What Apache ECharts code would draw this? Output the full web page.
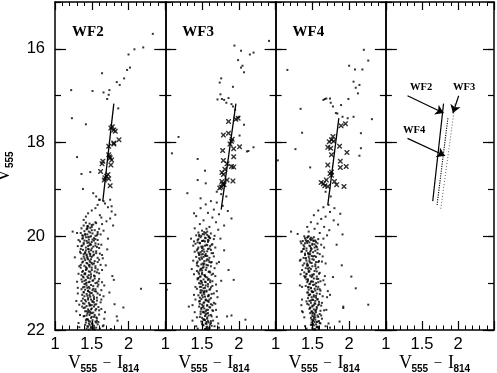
<!DOCTYPE html>
<html>
<head>
<meta charset="utf-8">
<script src="https://cdn.jsdelivr.net/npm/echarts@6/dist/echarts.min.js"></script>
<style>
html, body { margin: 0; padding: 0; background: #fff; }
#chart { width: 497px; height: 373px; }
</style>
</head>
<body>
<div id="chart"></div>
<script>
// tick labels
var xTickLabels = ['1', '1.5', '2'];
var yTickLabels = [16, 18, 20, 22];
var panelNames = ['WF2', 'WF3', 'WF4'];

// WF2 stars (V-I, V)
var wf2Dots = [
  [2.33,15.68],[2.20,15.97],[2.08,16.01],[2.00,16.12],[2.02,16.40],[1.98,16.45],[1.94,16.63],[1.84,16.71],
  [1.88,16.77],[1.64,16.52],[1.74,16.88],[1.66,16.93],[1.73,16.98],[1.71,17.07],[1.51,16.90],[1.22,16.88],
  [1.86,17.27],[1.23,17.48],[1.42,17.61],[1.30,18.31],[1.36,18.67],[1.48,18.63],[1.52,19.08],[1.56,19.15],
  [1.61,19.22],[1.75,19.22],[1.77,19.36],[1.38,18.99],
  [1.60,19.22],[1.66,19.25],[1.55,19.40],[1.77,19.47],[1.45,19.51],[1.61,19.55],[1.82,19.54],[1.39,19.65],
  [1.70,19.68],[1.55,19.70],[1.64,19.74],[1.79,19.77],[1.68,19.30],[1.58,19.33],[1.72,19.38],[1.50,19.45],
  [1.63,19.60],[1.75,19.62],[1.42,19.58],
  [1.42,19.71],[1.47,19.73],[1.52,19.75],[1.39,19.77],[1.56,19.72],[1.45,19.79],[1.50,19.80],
  [1.36,19.83],[1.43,19.85],[1.48,19.82],[1.54,19.87],[1.60,19.84],[1.40,19.89],[1.46,19.90],
  [1.35,19.93],[1.51,19.94],[1.44,19.96],[1.57,19.98],[1.38,19.99],[1.49,20.00],[1.42,20.02],
  [1.53,20.04],[1.37,20.05],[1.46,20.07],[1.40,20.09],[1.58,20.08],[1.34,20.11],[1.50,20.12],
  [1.44,20.14],[1.55,20.15],[1.39,20.17],[1.47,20.19],[1.36,20.21],[1.52,20.22],[1.42,20.24],
  [1.60,20.25],[1.45,20.27],[1.38,20.29],[1.49,20.30],[1.56,20.32],[1.41,20.34],[1.35,20.36],
  [1.47,20.37],[1.53,20.39],[1.43,20.41],[1.39,20.43],[1.50,20.44],[1.58,20.46],[1.36,20.48],
  [1.45,20.49],[1.41,20.51],[1.54,20.53],[1.48,20.55],[1.37,20.56],[1.44,20.58],[1.51,20.60],
  [1.62,20.61],[1.40,20.63],[1.47,20.65],[1.35,20.67],[1.55,20.68],[1.43,20.70],[1.50,20.72],
  [1.38,20.74],[1.46,20.75],[1.57,20.77],[1.41,20.79],[1.49,20.81],[1.36,20.83],[1.53,20.84],
  [1.44,20.86],[1.39,20.88],[1.48,20.90],[1.60,20.91],[1.42,20.93],[1.51,20.95],[1.37,20.97],
  [1.46,20.98],[1.55,21.00],[1.40,21.02],[1.49,21.04],[1.43,21.05],[1.58,21.07],[1.38,21.09],
  [1.47,21.11],[1.52,21.12],[1.41,21.14],[1.45,21.16],[1.56,21.18],[1.39,21.19],[1.50,21.21],
  [1.43,21.23],[1.61,21.25],[1.47,21.26],[1.40,21.28],[1.53,21.30],[1.45,21.32],[1.38,21.33],
  [1.49,21.35],[1.57,21.37],[1.42,21.39],[1.51,21.40],[1.46,21.42],[1.40,21.44],[1.54,21.46],
  [1.48,21.47],[1.43,21.49],[1.59,21.51],[1.39,21.53],[1.50,21.54],[1.45,21.56],[1.55,21.58],
  [1.41,21.60],[1.48,21.61],[1.52,21.63],[1.44,21.65],[1.60,21.67],[1.47,21.68],[1.40,21.70],
  [1.53,21.72],[1.49,21.74],[1.57,21.75],[1.43,21.77],[1.51,21.79],[1.46,21.81],[1.55,21.82],
  [1.42,21.84],[1.50,21.86],[1.58,21.88],[1.47,21.89],[1.53,21.91],[1.45,21.93],[1.56,21.95],
  [1.49,21.96],[1.52,21.98],[1.61,21.97],
  [1.50,19.76],[1.44,19.81],[1.58,19.91],[1.41,19.95],[1.47,20.01],[1.55,20.06],[1.43,20.10],
  [1.48,20.16],[1.37,20.20],[1.57,20.23],[1.46,20.28],[1.52,20.33],[1.39,20.38],[1.48,20.42],
  [1.44,20.47],[1.60,20.50],[1.38,20.54],[1.50,20.57],[1.46,20.62],[1.42,20.66],[1.58,20.71],
  [1.48,20.76],[1.40,20.80],[1.54,20.85],[1.45,20.89],[1.52,20.94],[1.43,20.99],[1.59,21.03],
  [1.46,21.08],[1.36,21.13],[1.54,21.17],[1.48,21.22],[1.44,21.27],[1.57,21.31],[1.41,21.36],
  [1.53,21.41],[1.47,21.45],[1.37,21.50],[1.56,21.55],[1.46,21.59],[1.50,21.64],[1.43,21.69],
  [1.56,21.73],[1.45,21.78],[1.59,21.83],[1.51,21.87],[1.44,21.92],[1.54,21.99],
  [1.66,19.88],[1.72,20.05],[1.64,20.40],[1.69,20.62],[1.78,20.85],[1.67,21.05],[1.74,21.20],
  [1.81,21.45],[1.68,21.62],[1.85,21.80],[1.66,21.90],[1.76,21.98],[1.71,20.28],[1.63,21.35],
  [2.17,21.12],[1.93,21.52],[1.80,20.93],[1.84,21.71],
  [1.30,19.93],[1.27,20.45],[1.31,21.10],[1.29,21.60],[1.32,20.80],[1.24,19.90]
];
var wf2Extra = [
  [1.46,20.13],[1.39,21.71],[1.53,20.58],[1.44,19.84],[1.58,21.22],[1.41,20.36],[1.49,21.93],[1.36,20.92],
  [1.55,19.99],[1.47,21.48],[1.43,20.68],[1.51,21.15],[1.38,20.04],[1.60,20.79],[1.45,21.62],[1.50,20.26],
  [1.42,21.01],[1.56,21.84],[1.40,20.47],[1.48,19.92],[1.53,21.34],[1.37,21.25],[1.46,20.83],[1.59,20.17],
  [1.44,21.77],[1.52,20.41],[1.35,20.61],[1.49,21.56],[1.41,19.97],[1.57,20.99],[1.45,20.21],[1.38,21.43],
  [1.54,21.68],[1.47,20.52],[1.43,21.97],[1.50,19.87],[1.62,21.41],[1.40,20.95],[1.48,21.29],[1.55,20.64],
  [1.42,20.30],[1.46,21.86],[1.37,20.76],[1.52,21.06],[1.44,20.44],[1.58,19.95],[1.49,20.86],[1.41,21.52],
  [1.53,21.95],[1.39,20.14],[1.47,21.19],[1.56,20.36],[1.43,20.57],[1.50,21.72],[1.36,21.38],[1.45,20.02],
  [1.54,20.90],[1.48,21.64],[1.42,20.72],[1.60,21.58],[1.46,20.33],[1.51,20.07],[1.39,21.20],[1.57,21.80],
  [1.44,21.10],[1.49,20.49],[1.35,20.27],[1.53,21.50],[1.47,20.97],[1.41,21.89],[1.55,20.20],[1.45,21.35],
  [1.50,20.67],[1.43,21.60],[1.59,20.96],[1.48,20.38],[1.38,20.86],[1.52,21.26],[1.46,21.99],[1.44,19.78],
  [1.56,21.45],[1.40,21.08],[1.49,20.18],[1.54,20.75],[1.42,21.79],[1.47,20.61],[1.51,21.38],[1.37,19.98],
  [1.58,20.55],[1.45,21.17],[1.53,20.09],[1.41,20.81],[1.48,21.82],[1.55,21.13],[1.43,20.39],[1.50,21.47]
];
var wf2Halo = [
  [1.32,20.08],[1.63,20.18],[1.33,20.64],[1.65,20.47],[1.31,21.22],[1.64,20.98],[1.33,21.46],[1.66,21.28],
  [1.32,21.85],[1.63,21.55],[1.34,20.33],[1.62,19.96],[1.30,20.97],[1.67,21.76],[1.34,21.68],[1.64,20.72],
  [1.31,20.21],[1.63,21.15],[1.33,21.94],[1.65,21.92],[1.29,21.38],[1.61,20.37]
];
var wf2Crosses = [
  [1.76,17.69],[1.80,17.73],[1.78,17.66],[1.87,17.94],[1.80,18.01],[1.73,18.08],[1.80,18.03],[1.73,18.26],
  [1.75,18.33],[1.74,18.30],[1.65,18.40],[1.64,18.45],[1.76,18.48],[1.62,18.62],[1.70,18.72],[1.67,18.80],
  [1.73,18.77],[1.75,18.92],[1.72,18.68],[1.68,18.75],[1.77,18.37],[1.82,17.76]
];
var wf2Ridge = [[1.80, 17.17], [1.65, 19.25]];

// WF3 stars
var wf3Dots = [
  [2.41,15.83],[1.94,15.93],[2.03,16.04],[2.15,16.12],[2.20,16.08],[1.99,16.24],[2.05,16.36],[2.03,16.40],
  [2.07,16.50],[1.76,16.63],[1.74,16.72],[1.92,16.81],[1.75,16.97],[1.71,17.08],[1.77,17.07],[1.80,17.09],
  [1.86,17.05],[1.83,17.15],[1.90,17.18],[1.92,17.23],[1.95,17.30],[2.00,17.45],[2.07,17.62],[2.01,17.85],
  [2.20,18.10],[2.11,18.19],[2.13,18.18],[1.44,18.35],[1.54,18.60],[1.55,18.87],[1.44,18.80],[1.18,17.88],
  [1.09,18.23],[1.30,19.08],[1.48,19.19],[1.39,19.51],
  [1.62,19.25],[1.70,19.28],[1.55,19.32],[1.78,19.35],[1.48,19.40],[1.66,19.43],[1.85,19.46],[1.58,19.50],
  [1.73,19.53],[1.42,19.57],[1.64,19.60],[1.90,19.62],[1.52,19.66],[1.69,19.70],[1.47,19.74],[1.80,19.77],
  [1.60,19.80],[1.56,19.84],[1.72,19.86],[1.40,19.83],[1.76,19.10],[1.83,19.15],[1.70,19.05],
  [1.50,19.88],[1.57,19.90],[1.45,19.92],[1.62,19.94],[1.53,19.96],[1.42,19.98],[1.59,20.00],
  [1.48,20.02],[1.55,20.04],[1.66,20.06],[1.44,20.08],[1.51,20.10],[1.58,20.12],[1.47,20.14],
  [1.41,20.16],[1.63,20.18],[1.54,20.20],[1.49,20.22],[1.45,20.24],[1.60,20.26],[1.52,20.28],
  [1.43,20.30],[1.57,20.32],[1.48,20.34],[1.65,20.36],[1.51,20.38],[1.46,20.40],[1.55,20.42],
  [1.42,20.44],[1.60,20.46],[1.50,20.48],[1.47,20.50],[1.56,20.52],[1.44,20.54],[1.62,20.56],
  [1.53,20.58],[1.49,20.60],[1.58,20.62],[1.45,20.64],[1.52,20.66],[1.67,20.68],[1.48,20.70],
  [1.55,20.72],[1.43,20.74],[1.59,20.76],[1.50,20.78],[1.46,20.80],[1.63,20.82],[1.54,20.84],
  [1.48,20.86],[1.57,20.88],[1.44,20.90],[1.52,20.92],[1.61,20.94],[1.49,20.96],[1.55,20.98],
  [1.46,21.00],[1.58,21.02],[1.51,21.04],[1.64,21.06],[1.47,21.08],[1.54,21.10],[1.43,21.12],
  [1.60,21.14],[1.50,21.16],[1.56,21.18],[1.48,21.20],[1.66,21.22],[1.53,21.24],[1.45,21.26],
  [1.58,21.28],[1.51,21.30],[1.62,21.32],[1.49,21.34],[1.55,21.36],[1.47,21.38],[1.59,21.40],
  [1.52,21.42],[1.68,21.44],[1.50,21.46],[1.57,21.48],[1.46,21.50],[1.61,21.52],[1.53,21.54],
  [1.49,21.56],[1.64,21.58],[1.55,21.60],[1.51,21.62],[1.58,21.64],[1.48,21.66],[1.62,21.68],
  [1.54,21.70],[1.70,21.72],[1.50,21.74],[1.57,21.76],[1.53,21.78],[1.65,21.80],[1.49,21.82],
  [1.59,21.84],[1.55,21.86],[1.61,21.88],[1.52,21.90],[1.67,21.92],[1.56,21.94],[1.60,21.96],
  [1.54,21.98],
  [1.53,19.91],[1.46,19.97],[1.60,20.03],[1.52,20.09],[1.44,20.13],[1.57,20.19],[1.50,20.25],
  [1.62,20.29],[1.45,20.35],[1.54,20.41],[1.49,20.45],[1.59,20.51],[1.43,20.57],[1.56,20.61],
  [1.51,20.67],[1.47,20.73],[1.61,20.77],[1.53,20.83],[1.45,20.89],[1.58,20.93],[1.50,20.99],
  [1.55,21.05],[1.62,21.09],[1.48,21.15],[1.52,21.21],[1.59,21.25],[1.47,21.31],[1.56,21.37],
  [1.53,21.41],[1.64,21.47],[1.51,21.51],[1.58,21.57],[1.48,21.61],[1.55,21.67],[1.63,21.71],
  [1.52,21.77],[1.58,21.81],[1.50,21.87],[1.63,21.91],[1.57,21.97],
  [1.75,20.05],[1.80,20.30],[1.73,20.55],[1.86,20.72],[1.76,20.95],[1.93,20.93],[2.09,21.78],
  [1.84,21.71],[1.90,21.69],[1.02,21.14],[1.32,21.50],
  [1.38,20.20],[1.36,20.70],[1.39,21.25],[1.37,21.80],[1.35,20.05]
];
var wf3Extra = [
  [1.54,20.11],[1.47,21.72],[1.60,20.55],[1.51,19.95],[1.63,21.23],[1.46,20.37],[1.57,21.93],[1.44,20.92],
  [1.59,20.01],[1.52,21.48],[1.49,20.69],[1.56,21.16],[1.45,20.06],[1.65,20.80],[1.53,21.63],[1.58,20.27],
  [1.48,21.01],[1.62,21.85],[1.46,20.47],[1.55,19.93],[1.60,21.35],[1.50,21.26],[1.54,20.84],[1.64,20.17],
  [1.52,21.78],[1.57,20.42],[1.43,20.62],[1.56,21.57],[1.49,19.99],[1.61,20.98],[1.51,20.22],[1.47,21.44],
  [1.59,21.69],[1.53,20.53],[1.55,21.98],[1.57,19.97],[1.66,21.42],[1.48,20.95],[1.54,21.29],[1.62,20.64],
  [1.50,20.31],[1.56,21.87],[1.45,20.77],[1.58,21.07],[1.52,20.44],[1.61,20.04],[1.55,20.87],[1.49,21.53],
  [1.60,21.95],[1.47,20.15],[1.53,21.19],[1.63,20.36],[1.51,20.58],[1.57,21.73],[1.46,21.39],[1.54,20.03],
  [1.59,20.91],[1.56,21.65],[1.50,20.73],[1.65,21.59],[1.53,20.33],[1.58,20.08],[1.48,21.20],[1.62,21.81],
  [1.52,21.11],[1.57,20.49],[1.44,20.27],[1.60,21.51],[1.54,20.97],[1.51,21.89],[1.61,20.21],[1.55,21.35],
  [1.56,20.67],[1.52,21.61],[1.64,20.96],[1.55,20.38],[1.47,20.86],[1.59,21.27],[1.58,21.99],[1.50,20.10],
  [1.62,21.45],[1.49,21.08],[1.56,20.18],[1.60,20.75],[1.54,21.79],[1.52,20.61],[1.58,21.38],[1.46,20.00],
  [1.63,20.55],[1.53,21.17],[1.59,20.09],[1.50,20.81],[1.56,21.83],[1.61,21.13],[1.49,20.39],[1.57,21.47]
];
var wf3Halo = [
  [1.40,20.33],[1.68,20.24],[1.39,20.81],[1.70,20.58],[1.41,21.35],[1.69,21.03],[1.40,21.62],[1.71,21.30],
  [1.42,21.92],[1.69,21.57],[1.38,20.52],[1.67,19.99],[1.41,21.08],[1.72,21.86],[1.43,21.73],[1.68,20.85],
  [1.39,20.11],[1.70,21.17],[1.44,21.97],[1.73,21.95],[1.37,21.47],[1.66,20.43]
];
var wf3Crosses = [
  [1.86,17.55],[1.99,17.48],[1.96,17.50],[1.79,17.84],[1.86,17.80],[1.91,17.93],[1.90,17.97],[1.88,18.03],
  [2.01,18.09],[1.78,18.17],[1.93,18.13],[1.93,18.30],[1.79,18.38],[1.84,18.45],[1.90,18.51],[1.93,18.52],
  [1.81,18.57],[1.77,18.64],[1.79,18.68],[1.84,18.80],[1.92,18.82],[1.77,18.83],[1.78,18.88],[1.76,18.95],
  [1.74,18.97],[1.80,18.90]
];
var wf3Ridge = [[1.96, 17.17], [1.76, 19.43]];

// WF4 stars
var wf4Dots = [
  [2.20,16.02],[2.26,16.25],[2.00,16.36],[2.08,16.44],[2.18,16.44],[2.06,16.70],[2.09,16.83],[2.14,16.77],
  [2.12,16.95],[1.99,17.07],[1.65,17.09],[1.69,17.06],[1.74,17.06],[1.75,17.15],[1.78,17.23],[1.89,17.20],
  [1.82,17.37],[1.84,17.38],[1.91,17.45],[1.98,17.48],[2.06,17.45],[2.31,17.50],[2.16,17.80],[2.16,18.12],
  [2.14,18.28],[1.16,16.45],[1.67,17.07],[1.34,17.28],[1.36,17.79],[1.27,18.14],[1.03,18.38],[1.47,18.53],
  [1.72,19.33],[1.65,19.38],[1.80,19.40],[1.58,19.45],[1.74,19.48],[1.88,19.52],[1.52,19.55],[1.68,19.58],
  [1.62,19.63],[1.79,19.66],[1.48,19.70],[1.57,19.73],[1.85,19.75],[1.66,19.80],[1.53,19.84],[1.73,19.87],
  [1.45,19.90],[1.60,19.93],[1.91,19.96],[1.70,19.98],[1.43,19.80],[1.68,19.05],[1.75,19.15],
  [1.45,20.00],[1.52,20.02],[1.40,20.04],[1.58,20.06],[1.48,20.08],[1.37,20.10],[1.55,20.12],
  [1.43,20.14],[1.50,20.16],[1.62,20.18],[1.46,20.20],[1.39,20.22],[1.53,20.24],[1.42,20.26],
  [1.57,20.28],[1.48,20.30],[1.36,20.32],[1.51,20.34],[1.44,20.36],[1.60,20.38],[1.40,20.40],
  [1.49,20.42],[1.55,20.44],[1.38,20.46],[1.46,20.48],[1.52,20.50],[1.42,20.52],[1.63,20.54],
  [1.47,20.56],[1.39,20.58],[1.54,20.60],[1.44,20.62],[1.50,20.64],[1.58,20.66],[1.41,20.68],
  [1.48,20.70],[1.36,20.72],[1.53,20.74],[1.45,20.76],[1.60,20.78],[1.42,20.80],[1.50,20.82],
  [1.47,20.84],[1.56,20.86],[1.40,20.88],[1.52,20.90],[1.44,20.92],[1.65,20.94],[1.49,20.96],
  [1.43,20.98],[1.55,21.00],[1.46,21.02],[1.51,21.04],[1.41,21.06],[1.58,21.08],[1.48,21.10],
  [1.53,21.12],[1.45,21.14],[1.61,21.16],[1.50,21.18],[1.43,21.20],[1.56,21.22],[1.47,21.24],
  [1.52,21.26],[1.64,21.28],[1.49,21.30],[1.44,21.32],[1.57,21.34],[1.51,21.36],[1.46,21.38],
  [1.59,21.40],[1.48,21.42],[1.54,21.44],[1.45,21.46],[1.62,21.48],[1.50,21.50],[1.47,21.52],
  [1.56,21.54],[1.52,21.56],[1.66,21.58],[1.49,21.60],[1.55,21.62],[1.47,21.64],[1.60,21.66],
  [1.53,21.68],[1.50,21.70],[1.58,21.72],[1.48,21.74],[1.63,21.76],[1.54,21.78],[1.51,21.80],
  [1.57,21.82],[1.49,21.84],[1.61,21.86],[1.55,21.88],[1.52,21.90],[1.68,21.92],[1.56,21.94],
  [1.50,21.96],[1.59,21.98],
  [1.50,20.05],[1.42,20.11],[1.57,20.15],[1.47,20.21],[1.38,20.27],[1.54,20.31],[1.45,20.37],
  [1.51,20.43],[1.41,20.47],[1.59,20.53],[1.49,20.57],[1.43,20.63],[1.55,20.69],[1.46,20.75],
  [1.52,20.81],[1.39,20.85],[1.58,20.91],[1.48,20.97],[1.53,21.03],[1.44,21.09],[1.60,21.13],
  [1.50,21.19],[1.46,21.25],[1.55,21.31],[1.48,21.37],[1.53,21.43],[1.58,21.47],[1.46,21.55],
  [1.54,21.59],[1.50,21.65],[1.62,21.69],[1.52,21.75],[1.56,21.83],[1.49,21.89],[1.58,21.93],
  [1.54,21.99],
  [2.03,20.86],[2.09,21.11],[1.90,20.62],[1.92,21.53],[1.87,21.82],[1.74,21.25],[1.78,20.87],
  [1.83,20.18],[1.21,19.90],[2.26,21.46],[1.92,21.50],
  [1.34,20.50],[1.33,21.05],[1.36,21.60],[1.35,20.15],[1.30,19.95]
];
var wf4Extra = [
  [1.46,20.13],[1.52,21.72],[1.55,20.55],[1.43,20.03],[1.60,21.23],[1.40,20.37],[1.56,21.93],[1.42,20.92],
  [1.51,20.09],[1.50,21.48],[1.44,20.69],[1.54,21.16],[1.38,20.19],[1.59,20.80],[1.51,21.63],[1.49,20.27],
  [1.47,21.01],[1.60,21.85],[1.41,20.47],[1.47,20.06],[1.57,21.35],[1.45,21.26],[1.50,20.84],[1.56,20.23],
  [1.49,21.78],[1.53,20.42],[1.37,20.62],[1.55,21.57],[1.44,20.01],[1.58,20.98],[1.48,20.25],[1.43,21.44],
  [1.57,21.69],[1.46,20.53],[1.53,21.98],[1.41,20.08],[1.63,21.42],[1.44,20.95],[1.52,21.29],[1.54,20.64],
  [1.42,20.31],[1.51,21.87],[1.39,20.77],[1.55,21.07],[1.45,20.44],[1.53,20.17],[1.49,20.87],[1.47,21.53],
  [1.58,21.95],[1.40,20.15],[1.51,21.19],[1.57,20.36],[1.43,20.58],[1.54,21.73],[1.42,21.39],[1.48,20.03],
  [1.56,20.91],[1.53,21.65],[1.45,20.73],[1.61,21.59],[1.47,20.33],[1.52,20.10],[1.44,21.20],[1.59,21.81],
  [1.48,21.11],[1.50,20.49],[1.38,20.27],[1.56,21.51],[1.51,20.97],[1.48,21.89],[1.55,20.21],[1.50,21.35],
  [1.46,20.67],[1.49,21.61],[1.61,20.96],[1.47,20.38],[1.41,20.86],[1.55,21.27],[1.52,21.99],[1.44,20.10],
  [1.59,21.45],[1.45,21.08],[1.50,20.18],[1.56,20.75],[1.51,21.79],[1.43,20.61],[1.54,21.38],[1.39,20.00],
  [1.58,20.55],[1.49,21.17],[1.54,20.09],[1.42,20.81],[1.53,21.83],[1.57,21.13],[1.45,20.39],[1.52,21.47]
];
var wf4Halo = [
  [1.35,20.33],[1.66,20.24],[1.34,20.81],[1.68,20.58],[1.36,21.35],[1.67,21.03],[1.37,21.62],[1.70,21.30],
  [1.40,21.92],[1.69,21.57],[1.33,20.52],[1.65,20.05],[1.36,21.08],[1.72,21.86],[1.39,21.73],[1.67,20.85],
  [1.34,20.11],[1.71,21.17],[1.42,21.97],[1.74,21.95],[1.35,21.47],[1.64,20.43]
];
var wf4Crosses = [
  [1.89,17.64],[1.95,17.60],[1.78,17.87],[1.76,17.94],[1.79,17.97],[1.73,17.98],[1.87,18.08],[1.71,18.10],
  [1.75,18.12],[1.97,18.21],[1.76,18.26],[1.88,18.40],[1.88,18.53],[1.96,18.51],[1.71,18.48],[1.76,18.63],
  [1.74,18.66],[1.69,18.80],[1.80,18.83],[1.62,18.85],[1.65,18.88],[1.71,18.94],[1.93,18.94],[1.83,18.90],
  [1.67,18.92],[1.76,18.70]
];
var wf4Ridge = [[1.86, 17.48], [1.71, 19.33]];

// arrows in the comparison panel: [from, to]
var arrowWF2 = [[1.30, 17.00], [1.80, 17.37]];
var arrowWF3 = [[2.01, 17.00], [1.93, 17.37]];
var arrowWF4 = [[1.30, 17.91], [1.82, 18.28]];

var allDots = [
    wf2Dots.concat(wf2Extra, wf2Halo),
    wf3Dots.concat(wf3Extra, wf3Halo),
    wf4Dots.concat(wf4Extra, wf4Halo)
];
var allCrosses = [wf2Crosses, wf3Crosses, wf4Crosses];
var allRidges = [wf2Ridge, wf3Ridge, wf4Ridge];

var chart = echarts.init(document.getElementById('chart'));

var panelLeft = [55, 165.3, 275.6, 385.9];
var panelWidth = 110.3;
var black = '#000';
var crossPath = 'path://M0,0L2,0L5,3L8,0L10,0L10,2L7,5L10,8L10,10L8,10L5,7L2,10L0,10L0,8L3,5L0,2Z';

var grids = [], xAxes = [], yAxes = [], series = [];

for (var i = 0; i < 4; i++) {
    grids.push({ left: panelLeft[i], top: 2, width: panelWidth, height: 328 });

    xAxes.push({
        gridIndex: i, type: 'value', position: 'bottom', min: 1, max: 2.5, interval: 0.5,
        axisLine: { show: true, onZero: false, lineStyle: { color: black, width: 1.5 } },
        axisTick: { show: true, inside: true, length: 9, lineStyle: { color: black, width: 1.2 } },
        minorTick: { show: true, splitNumber: 5, length: 4.5, lineStyle: { color: black, width: 1 } },
        splitLine: { show: false },
        axisLabel: {
            show: true, margin: 6, color: black, fontSize: 16.5, fontFamily: 'Liberation Sans',
            showMinLabel: true, showMaxLabel: true,
            formatter: function (v) { return xTickLabels.indexOf(String(v)) >= 0 ? String(v) : ''; }
        }
    });
    xAxes.push({
        gridIndex: i, type: 'value', position: 'top', min: 1, max: 2.5, interval: 0.5,
        axisLine: { show: true, onZero: false, lineStyle: { color: black, width: 1.5 } },
        axisTick: { show: true, inside: true, length: 8, lineStyle: { color: black, width: 1.2 } },
        minorTick: { show: true, splitNumber: 5, length: 4, lineStyle: { color: black, width: 1 } },
        splitLine: { show: false },
        axisLabel: { show: false }
    });

    ['left', 'right'].forEach(function (side) {
        yAxes.push({
            gridIndex: i, type: 'value', position: side, inverse: true, min: 15, max: 22, interval: 1,
            axisLine: { show: true, onZero: false, lineStyle: { color: black, width: 1.5 } },
            axisTick: { show: true, inside: true, length: 6, lineStyle: { color: black, width: 1.2 } },
            splitLine: { show: false },
            axisLabel: {
                show: i === 0 && side === 'left', margin: 10, color: black, fontSize: 16.5,
                fontFamily: 'Liberation Sans', showMinLabel: true, showMaxLabel: true,
                formatter: function (v) { return yTickLabels.indexOf(v) >= 0 ? String(v) : ''; }
            }
        });
        yAxes.push({
            gridIndex: i, type: 'value', position: side, inverse: true, min: 15, max: 22,
            axisLine: { show: false },
            axisTick: { show: true, inside: true, length: 11, customValues: yTickLabels,
                        lineStyle: { color: black, width: 1.2 } },
            splitLine: { show: false },
            axisLabel: { show: false }
        });
    });
}

for (var p = 0; p < 3; p++) {
    series.push({
        type: 'scatter', xAxisIndex: 2 * p, yAxisIndex: 4 * p,
        symbol: 'rect', symbolSize: 2, itemStyle: { color: black },
        data: allDots[p]
    });
    series.push({
        type: 'scatter', xAxisIndex: 2 * p, yAxisIndex: 4 * p,
        symbol: crossPath, symbolSize: 5, itemStyle: { color: black },
        data: allCrosses[p]
    });
    series.push({
        type: 'line', xAxisIndex: 2 * p, yAxisIndex: 4 * p, showSymbol: false,
        lineStyle: { color: black, width: 1.3 },
        data: allRidges[p]
    });
}

// comparison panel
series.push({
    type: 'line', xAxisIndex: 6, yAxisIndex: 12, showSymbol: false,
    lineStyle: { color: black, width: 1.2 }, data: wf2Ridge
});
series.push({
    type: 'line', xAxisIndex: 6, yAxisIndex: 12, showSymbol: false,
    lineStyle: { color: black, width: 1.1, type: [1.2, 1.2] }, data: wf4Ridge
});
series.push({
    type: 'line', xAxisIndex: 6, yAxisIndex: 12, showSymbol: false,
    lineStyle: { color: '#333', width: 0.8, type: [1, 2] }, data: wf3Ridge
});
series.push({
    type: 'lines', coordinateSystem: 'cartesian2d', xAxisIndex: 6, yAxisIndex: 12,
    symbol: ['none', 'arrow'], symbolSize: 8,
    lineStyle: { color: black, width: 1.2, opacity: 1 },
    data: [{ coords: arrowWF2 }, { coords: arrowWF3 }, { coords: arrowWF4 }]
});

var graphics = [];
for (var k = 0; k < 3; k++) {
    graphics.push({
        type: 'text', x: panelLeft[k] + 17, y: 32,
        style: { text: panelNames[k], font: 'bold 15px "Liberation Serif"', fill: black,
                 textVerticalAlign: 'middle', verticalAlign: 'middle' }
    });
}
[['WF2', 410, 87], ['WF3', 453, 87], ['WF4', 403, 130]].forEach(function (t) {
    graphics.push({
        type: 'text', x: t[1], y: t[2],
        style: { text: t[0], font: 'bold 10.5px "Liberation Serif"', fill: black,
                 textVerticalAlign: 'middle', verticalAlign: 'middle' }
    });
});
for (var m = 0; m < 4; m++) {
    var L = panelLeft[m];
    graphics.push({ type: 'text', x: L + 13, y: 354,
        style: { text: 'V', font: '18px "Liberation Serif"', fill: black, textVerticalAlign: 'top', verticalAlign: 'top' } });
    graphics.push({ type: 'text', x: L + 25.5, y: 364.5,
        style: { text: '555', font: 'bold 10px "Liberation Sans"', fill: black, textVerticalAlign: 'top', verticalAlign: 'top' } });
    graphics.push({ type: 'text', x: L + 48.5, y: 362,
        style: { text: '\u2013', font: '14px "Liberation Serif"', fill: black, textVerticalAlign: 'middle', verticalAlign: 'middle' } });
    graphics.push({ type: 'text', x: L + 62, y: 354,
        style: { text: 'I', font: '18px "Liberation Serif"', fill: black, textVerticalAlign: 'top', verticalAlign: 'top' } });
    graphics.push({ type: 'text', x: L + 67.5, y: 364.5,
        style: { text: '814', font: 'bold 10px "Liberation Sans"', fill: black, textVerticalAlign: 'top', verticalAlign: 'top' } });
}
graphics.push({
    type: 'group', x: -5, y: 182, rotation: Math.PI / 2,
    children: [
        { type: 'text', x: 0, y: 0,
          style: { text: 'V', font: '18px "Liberation Serif"', fill: black, textVerticalAlign: 'top', verticalAlign: 'top' } },
        { type: 'text', x: 14, y: 10,
          style: { text: '555', font: 'bold 10px "Liberation Sans"', fill: black, textVerticalAlign: 'top', verticalAlign: 'top' } }
    ]
});

var option = {
    animation: false,
    backgroundColor: '#fff',
    grid: grids,
    xAxis: xAxes,
    yAxis: yAxes,
    series: series,
    graphic: graphics
};
chart.setOption(option);
window.onresize = chart.resize;
</script>
</body>
</html>
